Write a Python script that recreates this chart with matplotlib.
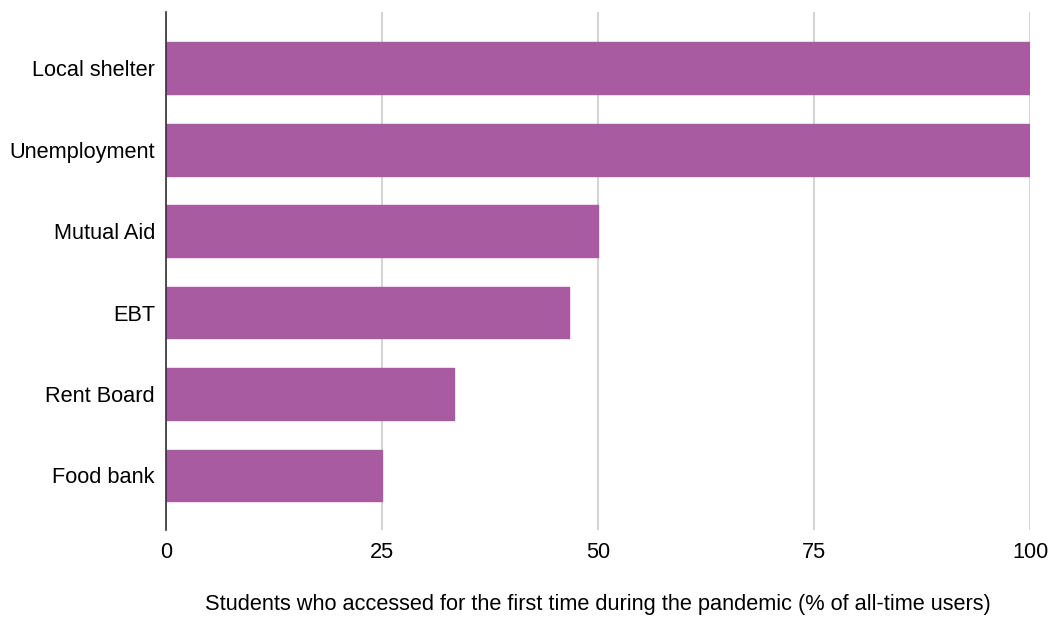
import matplotlib.pyplot as plt

# share of all-time users who first accessed each resource during the pandemic
categories = ["Local shelter", "Unemployment", "Mutual Aid", "EBT", "Rent Board", "Food bank"]
values = [100, 100, 50, 46.6, 33.3, 25]
xticks = [0, 25, 50, 75, 100]

plt.rcParams['font.family'] = ['Liberation Sans', 'DejaVu Sans']
FS = 15.7

fig = plt.figure(figsize=(10.52, 6.19), dpi=100)
ax = fig.add_axes([0.1578, 0.1438, 0.8213, 0.8368])

ypos = range(len(categories))
ax.barh(ypos, values, height=0.635, color="#a85ba0", edgecolor="#a85ba0",
        linewidth=1, joinstyle="round", zorder=3)

ax.set_xlim(0, 100)
ax.set_ylim(5.67, -0.69)
ax.set_yticks(list(ypos))
ax.set_yticklabels(categories, fontsize=FS)
ax.set_xticks(xticks)
ax.set_xticklabels([str(t) for t in xticks], fontsize=FS)
ax.tick_params(length=0)
ax.tick_params(axis="y", pad=8)
ax.tick_params(axis="x", pad=9)

ax.grid(axis="x", color="#cccccc", linewidth=1.2, zorder=0)
for side in ["top", "right", "bottom"]:
    ax.spines[side].set_visible(False)
ax.spines["left"].set_color("#333333")
ax.spines["left"].set_linewidth(1.2)
ax.spines["left"].set_zorder(4)

ax.set_xlabel("Students who accessed for the first time during the pandemic (% of all-time users)",
              fontsize=FS, labelpad=22)

fig.savefig("out.png", dpi=100)
